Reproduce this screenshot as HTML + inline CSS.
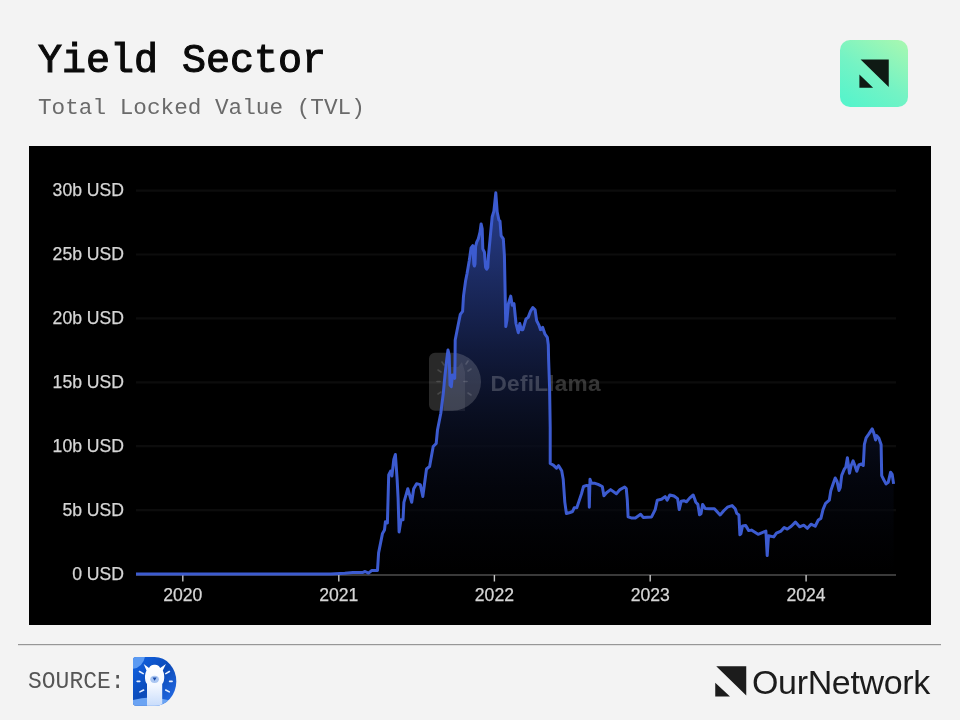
<!DOCTYPE html>
<html><head><meta charset="utf-8">
<style>
html,body{margin:0;padding:0;}
body{width:960px;height:720px;background:#f3f3f3;position:relative;overflow:hidden;font-family:"Liberation Sans",sans-serif;}
.t{position:absolute;white-space:nowrap;will-change:transform;}
#title{left:38px;top:37.3px;font-family:"Liberation Mono",monospace;-webkit-text-stroke:1.1px #0a0a0a;font-size:40px;color:#0a0a0a;line-height:50px;}
#sub{left:38px;top:93px;font-family:"Liberation Mono",monospace;font-size:22.7px;color:#6a6a6a;line-height:30px;}
#src{left:28px;top:667px;font-family:"Liberation Mono",monospace;font-size:23px;color:#555;line-height:30px;transform:scaleY(1.03);transform-origin:0 20px;}
#on{left:752px;top:662px;font-size:34px;color:#1c1c1c;line-height:40px;letter-spacing:-0.35px;}
svg{position:absolute;left:0;top:0;will-change:transform;}
</style></head><body>
<div class="t" id="title">Yield Sector</div>
<div class="t" id="sub">Total Locked Value (TVL)</div>
<div class="t" id="src">SOURCE:</div>
<div class="t" id="on">OurNetwork</div>
<svg width="960" height="720" viewBox="0 0 960 720">
<defs>
<linearGradient id="lg" x1="0.85" y1="0" x2="0.2" y2="1">
<stop offset="0" stop-color="#a4f7b2"/><stop offset="0.55" stop-color="#74f3c4"/><stop offset="1" stop-color="#57f4cb"/>
</linearGradient>
<linearGradient id="fill" x1="0" y1="190" x2="0" y2="574" gradientUnits="userSpaceOnUse">
<stop offset="0" stop-color="rgb(40,62,141)"/>
<stop offset="0.104" stop-color="rgb(35,54,123)"/>
<stop offset="0.234" stop-color="rgb(27,42,96)"/>
<stop offset="0.417" stop-color="rgb(17,26,60)"/>
<stop offset="0.625" stop-color="rgb(10,15,34)" stop-opacity="0.8"/>
<stop offset="0.781" stop-color="rgb(5,8,19)" stop-opacity="0.6"/>
<stop offset="0.9" stop-color="rgb(2,3,7)" stop-opacity="0.6"/><stop offset="1" stop-color="rgb(0,0,0)" stop-opacity="0.5"/>
</linearGradient>
<linearGradient id="dg" x1="0" y1="0" x2="1" y2="1">
<stop offset="0" stop-color="#1264e6"/><stop offset="0.5" stop-color="#0b4ab8"/><stop offset="1" stop-color="#2a72ee"/>
</linearGradient>
<linearGradient id="ng" x1="0" y1="0" x2="0" y2="1">
<stop offset="0" stop-color="#ffffff"/><stop offset="0.5" stop-color="#f4f8ff"/><stop offset="1" stop-color="#c8dcfb"/>
</linearGradient>
</defs>
<!-- top-right logo -->
<rect x="840" y="40" width="68" height="67" rx="10" fill="url(#lg)"/>
<path d="M860.6,59.4 L888.75,59.4 L888.75,86.9 Z M859.4,74.4 L859.4,87.75 L873.1,87.75 Z" fill="#0f1a14"/>
<!-- chart -->
<rect x="29" y="146" width="902" height="479" fill="#000"/>
<g stroke="#0c0c0c" stroke-width="2.2"><line x1="136" x2="896" y1="510.1" y2="510.1"/><line x1="136" x2="896" y1="446.2" y2="446.2"/><line x1="136" x2="896" y1="382.3" y2="382.3"/><line x1="136" x2="896" y1="318.4" y2="318.4"/><line x1="136" x2="896" y1="254.5" y2="254.5"/><line x1="136" x2="896" y1="190.6" y2="190.6"/></g>
<line x1="136" x2="896" y1="574.9" y2="574.9" stroke="#3a3a3a" stroke-width="2"/>
<g stroke="#c4c4c4" stroke-width="1.4"><line x1="182.8" x2="182.8" y1="575" y2="581.5"/><line x1="338.8" x2="338.8" y1="575" y2="581.5"/><line x1="494.4" x2="494.4" y1="575" y2="581.5"/><line x1="650.2" x2="650.2" y1="575" y2="581.5"/><line x1="806.1" x2="806.1" y1="575" y2="581.5"/></g>
<g fill="#d6d6d6" stroke="#d6d6d6" stroke-width="0.25" font-size="17.6" font-family="Liberation Sans"><text x="124" y="579.5" text-anchor="end">0 USD</text><text x="124" y="515.6" text-anchor="end">5b USD</text><text x="124" y="451.7" text-anchor="end">10b USD</text><text x="124" y="387.8" text-anchor="end">15b USD</text><text x="124" y="323.9" text-anchor="end">20b USD</text><text x="124" y="260.0" text-anchor="end">25b USD</text><text x="124" y="196.1" text-anchor="end">30b USD</text><text x="182.8" y="600.8" text-anchor="middle">2020</text><text x="338.8" y="600.8" text-anchor="middle">2021</text><text x="494.4" y="600.8" text-anchor="middle">2022</text><text x="650.2" y="600.8" text-anchor="middle">2023</text><text x="806.1" y="600.8" text-anchor="middle">2024</text></g>
<path d="M136,574 L331,574 L344.8,573.3 L352.9,572.6 L362.4,572.6 L365.1,571.5 L368.5,573.1 L371.9,570.4 L377.5,570.5 L378.6,552.9 L382.5,533.4 L384.5,530 L385.4,521.75 L387.4,523 L388.7,475 L390.6,471.1 L391.9,476 L393.8,459.5 L395.4,454.5 L397.1,478.9 L398.1,498.4 L399.1,532 L401,519.8 L403,519.8 L403.9,502.3 L407.8,488.7 L411.7,502.3 L413.7,488.7 L416.6,483.8 L420.3,484.6 L422.8,496.5 L426.5,469 L429.6,466.5 L433.2,446.5 L436.2,443.5 L437.5,430 L440.8,413.3 L443.3,393.3 L445,375 L446.7,360 L448,350 L449.2,355 L450,385 L451.3,386.7 L452.5,375 L454.7,378.3 L455,363.3 L455.2,340 L457.2,329.7 L460.3,314.4 L462.6,311.3 L463.5,296.1 L465.6,280.8 L467.1,273.2 L469.2,261 L471.1,247.8 L472.8,245.6 L473.8,264 L474.4,266 L475,264 L475.6,246.7 L476.7,242.2 L478.3,238.9 L480,232.2 L481.1,223.9 L482.2,228.9 L482.8,248.9 L484.4,252.2 L485.6,267.5 L486.7,269.2 L487.8,267.5 L488.3,257.8 L490.6,233.3 L492.2,216.7 L493.9,211.1 L495.8,192.8 L497.2,212 L498.9,220 L500,221.1 L501.1,235.6 L503.3,238.9 L504.4,255.6 L505.8,326.6 L506.9,320.5 L508.4,303.7 L510.7,296.1 L512.2,305.2 L514,303.7 L516,323.5 L518.3,332.7 L519.8,323.5 L521.4,329.7 L522.9,329.7 L526,319 L528.2,317.4 L530.5,311.3 L532.8,307.5 L535.1,309.8 L536.6,320.5 L538.9,325.1 L540.5,329.7 L542.7,327.4 L545,334.2 L547.3,337.3 L548.3,345 L548.6,359.2 L549.6,388.3 L550.2,427.2 L550.2,463.5 L553.3,465.1 L556.5,468.2 L558.5,465.6 L561.7,470.8 L563.2,479.2 L564.8,502.1 L566.4,513.5 L570,512.5 L572.6,511.5 L574.2,507.8 L576.8,507.8 L579.4,500 L581.5,493.75 L583.5,486.5 L586.7,485.4 L588.75,485.9 L589.3,507.3 L590,479.2 L591.4,483.3 L595,483.3 L598.1,484.4 L602.3,486.5 L603.9,495.8 L606.5,492.7 L610.6,489.6 L616.4,493.75 L620,489.6 L624.7,487 L626.25,488.5 L627.3,500 L628.1,516.9 L631.25,517.9 L635.4,517.9 L640.6,514.3 L643.2,517.4 L651.6,516.9 L655.2,509.6 L657.3,500.2 L661.5,499.2 L665.1,496.6 L667.2,500.2 L669.8,495 L674,496 L677.6,498.6 L679.2,509.6 L681.25,501.25 L683.9,500.7 L686.5,501.8 L689.6,498.1 L693.2,495 L694.8,499.2 L695.8,502.3 L697.9,504.4 L699.5,514.8 L701,513.75 L702.6,504.4 L705.2,508.5 L709.2,508.75 L714.4,508.75 L720.1,515 L723.75,510.8 L727.4,507.2 L732.1,505.6 L735.2,508.75 L736.8,513.4 L738.9,515 L739.9,534.8 L740.9,533.75 L742.5,525.9 L745.6,525.4 L748.75,530.6 L751.4,530.1 L758.1,534.3 L765.9,531.1 L767.2,555.6 L768.5,535.8 L773.75,536.9 L776.4,533.2 L781,531.1 L784.2,527.5 L787.3,529.1 L791.25,526.25 L795.4,522.1 L799.6,526.8 L803.75,525.2 L807.4,528.3 L811,524.2 L815.2,526.25 L818.3,520 L820.9,518.4 L823,509.6 L825.6,503.3 L829.3,500.2 L830.8,490.8 L832.9,484.6 L835.2,478 L837.1,481.5 L839,490.5 L840.2,487.7 L841.7,475.4 L844.3,469.2 L845.8,467.1 L847.4,457.7 L849.5,473.3 L851,466 L853.1,460.8 L854.7,465 L856.8,471.25 L858.9,465 L861.5,464 L863.3,465.5 L864.4,444.4 L866.1,437.8 L868.9,433.9 L872.2,428.9 L873.9,433.3 L875.6,440 L876.7,435.6 L878.9,438.3 L881.1,444.4 L881.7,475.6 L883.9,480 L886.1,483.9 L888.3,482.2 L890.6,472.2 L892.2,474.4 L893.6,483.9 L893.6,574 L136,574 Z" fill="url(#fill)"/>
<g fill="#fff">
<path d="M435,352.7 H452 A29,29 0 0 1 452,410.8 H435 A6,6 0 0 1 429,404.8 V358.7 A6,6 0 0 1 435,352.7 Z" fill-opacity="0.16"/>
<path d="M444,411 V372 L446,362 L450,367 H458 L462,362 L465,372 V411 Z" fill-opacity="0.07"/>
<g stroke="#fff" stroke-opacity="0.14" stroke-width="1.6" stroke-linecap="round">
<line x1="437" y1="381.5" x2="440" y2="381.5"/><line x1="464" y1="381.5" x2="467" y2="381.5"/>
<line x1="438" y1="370" x2="441" y2="372"/><line x1="468" y1="371" x2="471" y2="369"/>
<line x1="438" y1="394" x2="441" y2="392"/><line x1="468" y1="393" x2="471" y2="395"/>
<line x1="442" y1="362" x2="444" y2="365"/><line x1="466" y1="364" x2="468" y2="361"/>
</g>
<text x="490.5" y="391" font-size="22.6" letter-spacing="0.25" font-weight="bold" font-family="Liberation Sans" fill-opacity="0.2">DefiLlama</text>
</g>
<path d="M136,574 L331,574 L344.8,573.3 L352.9,572.6 L362.4,572.6 L365.1,571.5 L368.5,573.1 L371.9,570.4 L377.5,570.5 L378.6,552.9 L382.5,533.4 L384.5,530 L385.4,521.75 L387.4,523 L388.7,475 L390.6,471.1 L391.9,476 L393.8,459.5 L395.4,454.5 L397.1,478.9 L398.1,498.4 L399.1,532 L401,519.8 L403,519.8 L403.9,502.3 L407.8,488.7 L411.7,502.3 L413.7,488.7 L416.6,483.8 L420.3,484.6 L422.8,496.5 L426.5,469 L429.6,466.5 L433.2,446.5 L436.2,443.5 L437.5,430 L440.8,413.3 L443.3,393.3 L445,375 L446.7,360 L448,350 L449.2,355 L450,385 L451.3,386.7 L452.5,375 L454.7,378.3 L455,363.3 L455.2,340 L457.2,329.7 L460.3,314.4 L462.6,311.3 L463.5,296.1 L465.6,280.8 L467.1,273.2 L469.2,261 L471.1,247.8 L472.8,245.6 L473.8,264 L474.4,266 L475,264 L475.6,246.7 L476.7,242.2 L478.3,238.9 L480,232.2 L481.1,223.9 L482.2,228.9 L482.8,248.9 L484.4,252.2 L485.6,267.5 L486.7,269.2 L487.8,267.5 L488.3,257.8 L490.6,233.3 L492.2,216.7 L493.9,211.1 L495.8,192.8 L497.2,212 L498.9,220 L500,221.1 L501.1,235.6 L503.3,238.9 L504.4,255.6 L505.8,326.6 L506.9,320.5 L508.4,303.7 L510.7,296.1 L512.2,305.2 L514,303.7 L516,323.5 L518.3,332.7 L519.8,323.5 L521.4,329.7 L522.9,329.7 L526,319 L528.2,317.4 L530.5,311.3 L532.8,307.5 L535.1,309.8 L536.6,320.5 L538.9,325.1 L540.5,329.7 L542.7,327.4 L545,334.2 L547.3,337.3 L548.3,345 L548.6,359.2 L549.6,388.3 L550.2,427.2 L550.2,463.5 L553.3,465.1 L556.5,468.2 L558.5,465.6 L561.7,470.8 L563.2,479.2 L564.8,502.1 L566.4,513.5 L570,512.5 L572.6,511.5 L574.2,507.8 L576.8,507.8 L579.4,500 L581.5,493.75 L583.5,486.5 L586.7,485.4 L588.75,485.9 L589.3,507.3 L590,479.2 L591.4,483.3 L595,483.3 L598.1,484.4 L602.3,486.5 L603.9,495.8 L606.5,492.7 L610.6,489.6 L616.4,493.75 L620,489.6 L624.7,487 L626.25,488.5 L627.3,500 L628.1,516.9 L631.25,517.9 L635.4,517.9 L640.6,514.3 L643.2,517.4 L651.6,516.9 L655.2,509.6 L657.3,500.2 L661.5,499.2 L665.1,496.6 L667.2,500.2 L669.8,495 L674,496 L677.6,498.6 L679.2,509.6 L681.25,501.25 L683.9,500.7 L686.5,501.8 L689.6,498.1 L693.2,495 L694.8,499.2 L695.8,502.3 L697.9,504.4 L699.5,514.8 L701,513.75 L702.6,504.4 L705.2,508.5 L709.2,508.75 L714.4,508.75 L720.1,515 L723.75,510.8 L727.4,507.2 L732.1,505.6 L735.2,508.75 L736.8,513.4 L738.9,515 L739.9,534.8 L740.9,533.75 L742.5,525.9 L745.6,525.4 L748.75,530.6 L751.4,530.1 L758.1,534.3 L765.9,531.1 L767.2,555.6 L768.5,535.8 L773.75,536.9 L776.4,533.2 L781,531.1 L784.2,527.5 L787.3,529.1 L791.25,526.25 L795.4,522.1 L799.6,526.8 L803.75,525.2 L807.4,528.3 L811,524.2 L815.2,526.25 L818.3,520 L820.9,518.4 L823,509.6 L825.6,503.3 L829.3,500.2 L830.8,490.8 L832.9,484.6 L835.2,478 L837.1,481.5 L839,490.5 L840.2,487.7 L841.7,475.4 L844.3,469.2 L845.8,467.1 L847.4,457.7 L849.5,473.3 L851,466 L853.1,460.8 L854.7,465 L856.8,471.25 L858.9,465 L861.5,464 L863.3,465.5 L864.4,444.4 L866.1,437.8 L868.9,433.9 L872.2,428.9 L873.9,433.3 L875.6,440 L876.7,435.6 L878.9,438.3 L881.1,444.4 L881.7,475.6 L883.9,480 L886.1,483.9 L888.3,482.2 L890.6,472.2 L892.2,474.4 L893.6,483.9" fill="none" stroke="#3c5bd0" stroke-width="3" stroke-linejoin="round" stroke-linecap="butt"/>
<!-- rule -->
<rect x="18" y="644" width="923" height="1.2" fill="#969696"/>
<!-- bottom logo -->
<path d="M716.25,666.25 L746.25,666.25 L746.25,695.6 Z M715.25,682.75 L715.25,696.6 L730,696.6 Z" fill="#1c1c1c"/>
<!-- defillama icon -->
<clipPath id="dcl"><path d="M136,657 H154.6 A21.7,24.4 0 0 1 154.6,705.8 H136 A3,3 0 0 1 133,702.8 V660 A3,3 0 0 1 136,657 Z"/></clipPath>
<g clip-path="url(#dcl)">
<rect x="133" y="657" width="44" height="49" fill="url(#dg)"/>
<circle cx="131" cy="655" r="14" fill="#5b9af2"/>
<path d="M133,700 Q150,695 168,700 V706 H133 Z" fill="#6aa3f3"/>
<path d="M147,706 V684 Q144.6,681 145,676 Q145.5,672 146.5,670.5 L143.7,664 L149,668 Q151,664.5 154.6,664.8 Q158.2,664.5 160.2,668 L165.9,664 L162.8,670.5 Q163.8,672 164.2,676 Q164.6,681 162.2,684 V706 Z" fill="url(#ng)"/>
<ellipse cx="154.6" cy="679.3" rx="4.3" ry="3.6" fill="#aac6f2"/>
<path d="M152.6,677.6 L156.6,677.6 L154.6,680.8 Z" fill="#1a4aa8"/>
<g stroke="#e6efff" stroke-width="1.6" stroke-linecap="round">
<line x1="139.5" y1="671.5" x2="143.2" y2="673.6"/><line x1="137.2" y1="681.4" x2="139.8" y2="681.4"/><line x1="139.9" y1="691.9" x2="143.6" y2="690"/>
<line x1="165.8" y1="673.6" x2="169.4" y2="671.5"/><line x1="169.6" y1="681.4" x2="172.1" y2="681.4"/><line x1="165.7" y1="690" x2="169.3" y2="691.9"/>
</g>
</g>
</svg>
</body></html>
